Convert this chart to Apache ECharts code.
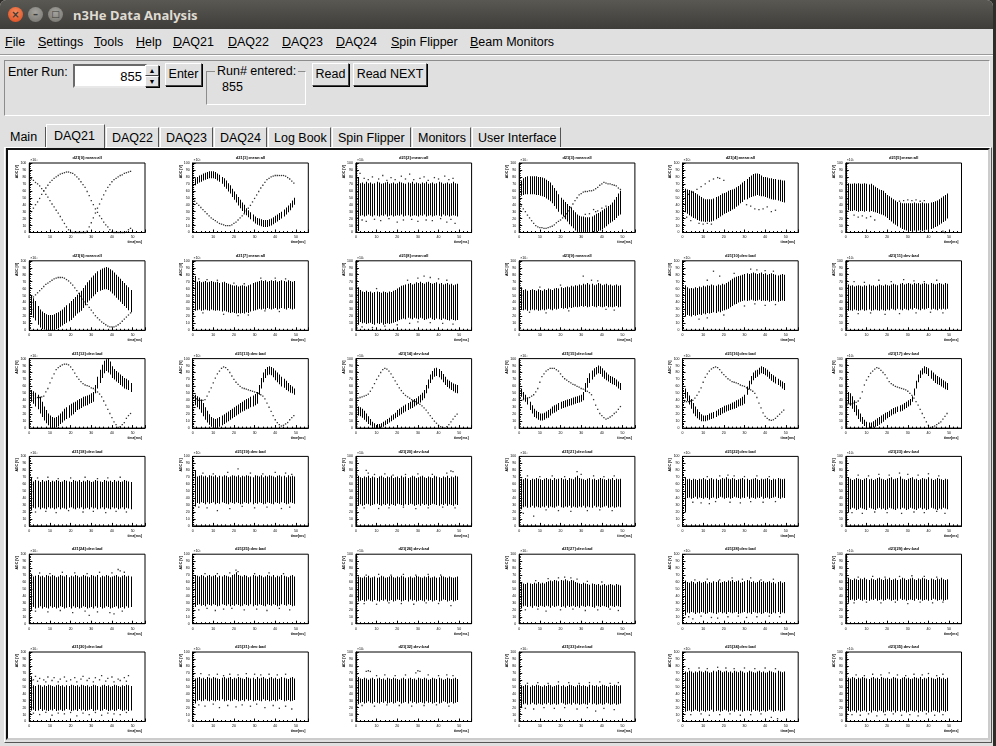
<!DOCTYPE html>
<html>
<head>
<meta charset="utf-8">
<title>n3He Data Analysis</title>
<script src="https://cdn.jsdelivr.net/npm/echarts@6/dist/echarts.min.js"></script>
<style>
  body { margin: 0; width: 996px; height: 746px; background: #2e2d2a; overflow: hidden;
         font-family: "Liberation Sans", Arial, sans-serif; font-size: 12.5px; color: #000; }
  .abs { position: absolute; }
  #win { left: 0; top: 0; width: 993px; height: 746px; background: #e0e0e0; border-radius: 6px 6px 0 0; overflow: hidden; }
  #titlebar { left: 0; top: 0; width: 993px; height: 29px; background: linear-gradient(#5a5853, #3e3d39); }
  #titlebar .t { left: 73px; top: 6px; color: #dfdbd2; font: bold 13px "Noto Sans", sans-serif; }
  .wbtn { width: 15px; height: 15px; border-radius: 50%; top: 7px; font: bold 10px "DejaVu Sans"; text-align: center; line-height: 15px; color: #3c3b37; }
  .menu { top: 35px; }
  .u { text-decoration: underline; }
  .btn { height: 21px; border: 1px solid; border-color: #fff #444 #444 #fff; box-shadow: 1px 1px 0 #000; text-align: center; line-height: 21px; background: #e0e0e0; }
  .tab { top: 127px; height: 20px; line-height: 20px; border-top: 1px solid #fff; border-left: 1px solid #fff; border-right: 1px solid #555; padding-left: 5px; box-sizing: border-box; }
</style>
</head>
<body>
<div id="win" class="abs">
  <div id="titlebar" class="abs">
    <div class="abs wbtn" style="left:8px;background:radial-gradient(circle at 50% 35%,#f58a5c,#d9481c);">×</div>
    <div class="abs wbtn" style="left:28px;background:radial-gradient(circle at 50% 35%,#a5a39d,#73716b);">–</div>
    <div class="abs wbtn" style="left:48px;background:radial-gradient(circle at 50% 35%,#a5a39d,#73716b);font-size:9px;">□</div>
    <div class="abs t">n3He Data Analysis</div>
  </div>

  <div class="abs menu" style="left:5px"><span class="u">F</span>ile</div>
  <div class="abs menu" style="left:38px"><span class="u">S</span>ettings</div>
  <div class="abs menu" style="left:94px"><span class="u">T</span>ools</div>
  <div class="abs menu" style="left:136px"><span class="u">H</span>elp</div>
  <div class="abs menu" style="left:173px"><span class="u">D</span>AQ21</div>
  <div class="abs menu" style="left:228px"><span class="u">D</span>AQ22</div>
  <div class="abs menu" style="left:282px"><span class="u">D</span>AQ23</div>
  <div class="abs menu" style="left:336px"><span class="u">D</span>AQ24</div>
  <div class="abs menu" style="left:391px"><span class="u">S</span>pin Flipper</div>
  <div class="abs menu" style="left:470px"><span class="u">B</span>eam Monitors</div>
  <div class="abs" style="left:0;top:54px;width:993px;height:1px;background:#9a9a9a;border-bottom:1px solid #fff;"></div>

  <div class="abs" style="left:4px;top:60px;width:984px;height:54px;border:1px solid;border-color:#8c8c8c #fff #fff #8c8c8c;"></div>
  <div class="abs" style="left:8px;top:65px;">Enter Run:</div>
  <div class="abs" style="left:73px;top:64px;width:67px;height:20px;background:#fff;border:2px solid;border-color:#6a6a6a #e8e8e8 #e8e8e8 #6a6a6a;text-align:right;line-height:21px;font-size:13px;padding-right:3px;">855</div>
  <div class="abs btn" style="left:145px;top:65px;width:12px;height:9px;line-height:9px;font-size:7px;">▲</div>
  <div class="abs btn" style="left:145px;top:76px;width:12px;height:9px;line-height:9px;font-size:7px;">▼</div>
  <div class="abs btn" style="left:165px;top:63px;width:35px;">Enter</div>
  <div class="abs" style="left:206px;top:71px;width:98px;height:32px;border:1px solid;border-color:#8c8c8c #fff #fff #8c8c8c;"></div>
  <div class="abs" style="left:215px;top:64px;background:#e0e0e0;padding:0 2px;">Run# entered:</div>
  <div class="abs" style="left:222px;top:80px;">855</div>
  <div class="abs btn" style="left:312px;top:63px;width:35px;">Read</div>
  <div class="abs btn" style="left:353px;top:63px;width:72px;">Read NEXT</div>

  <div class="abs tab" style="left:5px;width:41px;border-top:none;border-left:none;">Main</div>
  <div class="abs tab" style="left:46px;top:124px;height:24px;width:59px;padding-left:7px;line-height:22px;background:#e0e0e0;z-index:2;">DAQ21</div>
  <div class="abs tab" style="left:106px;width:53px;">DAQ22</div>
  <div class="abs tab" style="left:160px;width:53px;">DAQ23</div>
  <div class="abs tab" style="left:214px;width:53px;">DAQ24</div>
  <div class="abs tab" style="left:268px;width:63px;">Log Book</div>
  <div class="abs tab" style="left:332px;width:79px;">Spin Flipper</div>
  <div class="abs tab" style="left:412px;width:59px;">Monitors</div>
  <div class="abs tab" style="left:472px;width:89px;">User Interface</div>

  <div class="abs" style="left:4px;top:147px;width:986px;height:594px;border:1px solid;border-color:#fff #555 #555 #fff;"></div>
  <div class="abs" style="left:6px;top:148px;width:980px;height:588px;border:2px solid;border-color:#111 #ccc #ccc #111;"></div>
  <div id="plots" class="abs" style="left:8px;top:150px;width:980px;height:588px;background:#fff;"></div>
</div>

<script>
// time bins (x values)
var bins = [1,2,3,4,5,6,7,8,9,10,11,12,13,14,15,16,17,18,19,20,21,22,23,24,25,26,27,28,29,30,31,32,33,34,35,36,37,38,39,40,41,42,43,44,45,46,47,48,49];

var plotTitles = [
    'd21[0]:mean:all', 'd21[1]:mean:all', 'd21[2]:mean:all', 'd21[3]:mean:all', 'd21[4]:mean:all', 'd21[5]:mean:all',
    'd21[6]:mean:all', 'd21[7]:mean:all', 'd21[8]:mean:all', 'd21[9]:mean:all', 'd21[10]:dev:bad', 'd21[11]:dev:bad',
    'd21[12]:dev:bad', 'd21[13]:dev:bad', 'd21[14]:dev:bad', 'd21[15]:dev:bad', 'd21[16]:dev:bad', 'd21[17]:dev:bad',
    'd21[18]:dev:bad', 'd21[19]:dev:bad', 'd21[20]:dev:bad', 'd21[21]:dev:bad', 'd21[22]:dev:bad', 'd21[23]:dev:bad',
    'd21[24]:dev:bad', 'd21[25]:dev:bad', 'd21[26]:dev:bad', 'd21[27]:dev:bad', 'd21[28]:dev:bad', 'd21[29]:dev:bad',
    'd21[30]:dev:bad', 'd21[31]:dev:bad', 'd21[32]:dev:bad', 'd21[33]:dev:bad', 'd21[34]:dev:bad', 'd21[35]:dev:bad'
];
var yTitle = 'ADC [V]';
var xTitle = 'time[ms]';

// row 1
var r1c1_dotA = [30,35,40,44,49,55,60,64,68,72,75,78,80,82,84,85,86,87,87,86,85,83,80,77,73,69,65,59,53,46,40,34,29,24,20,15,11,8,4,1,0,0,0,0,0,0,1,4,6];
var r1c1_dotB = [77,75,72,70,67,63,60,55,51,46,41,37,32,28,23,18,13,8,4,1,0,0,0,0,0,0,0,2,8,14,21,28,35,41,48,54,60,65,69,73,76,78,80,82,83,85,86,87,88];

var r1c2_lo = [68,70,72,73,75,76,77,78,78,78,77,75,73,70,66,63,59,56,51,47,43,39,35,31,28,25,22,19,16,13,11,10,9,8,8,8,9,10,12,14,16,18,20,23,26,29,32,36,40];
var r1c2_hi = [78,80,82,83,85,86,87,88,88,88,87,85,83,80,78,75,71,68,63,59,55,51,47,43,40,35,32,29,26,23,21,20,19,18,18,18,19,20,22,24,26,28,30,33,36,39,42,46,50];
var r1c2_dot = [45,42,39,36,33,30,27,24,21,19,17,15,13,12,11,10,10,10,11,13,15,18,21,24,27,31,35,39,44,49,54,59,64,68,72,76,78,80,81,82,82,82,82,82,81,79,77,74,71];

var r1c3_hi = [80,71,72,70,73,71,72,70,71,73,72,70,71,72,73,70,71,72,70,71,73,72,71,70,72,71,73,70,72,71,70,72,71,73,70,71,72,70,71,73,72,70,71,72,70,71,73,71,70];
var r1c3_lo = [2,24,25,23,24,26,24,23,25,24,23,25,24,26,23,24,25,23,24,25,24,26,23,24,25,23,24,25,24,23,25,24,26,23,24,25,23,24,25,24,23,26,24,25,23,24,25,24,23];
var r1c3_pts = [[2,85],[4,78],[6,76],[8,80],[11,77],[13,82],[15,75],[17,79],[19,76],[22,81],[24,77],[26,84],[28,76],[31,78],[33,80],[35,75],[38,79],[40,77],[43,81],[45,76],[47,78],
    [3,18],[5,16],[9,19],[12,17],[16,20],[20,15],[23,18],[27,19],[30,16],[34,18],[37,17],[41,20],[44,15],[46,19],[48,13]];

var r1c4_lo = [53,54,55,55,55,55,55,54,54,53,52,51,49,47,45,42,38,34,30,26,23,19,16,12,9,6,3,1,0,0,0,0,0,0,0,1,1,2,3,5,7,9,12,14,16,18,21,24,26];
var r1c4_hi = [75,78,80,81,81,81,81,81,80,80,79,78,76,74,72,68,64,60,55,50,47,44,41,38,36,32,29,26,24,23,23,22,22,22,23,25,27,28,30,32,34,36,38,40,43,47,51,56,60];
var r1c4_dot = [38,34,30,25,21,17,13,10,8,7,7,6,6,7,8,9,11,14,16,18,21,23,27,31,36,41,46,50,54,56,58,59,59,60,60,61,63,65,68,70,72,71,70,70,69,68,67,64,62];
var r1c4_pts = [[36,33],[37,30],[38,31],[40,35],[42,38],[34,27],[32,26]];

var r1c5_lo = [29,27,25,23,21,20,18,17,16,16,15,16,15,16,17,19,21,23,25,27,28,30,31,33,34,37,39,42,44,47,48,50,51,52,53,54,53,52,52,51,50,49,48,47,47,46,45,44,43];
var r1c5_hi = [63,62,61,60,59,57,55,53,51,49,48,48,48,48,49,51,52,54,56,57,58,60,61,62,63,65,67,69,72,74,77,80,82,84,85,85,84,82,80,80,79,78,78,77,77,76,76,75,75];
var r1c5_pts = [[3,55],[5,58],[7,62],[9,66],[11,70],[13,74],[15,77],[17,79],[18,78],[20,75],
    [31,40],[33,38],[35,34],[37,33],[39,34],[41,37],[43,30],[45,32],[2,22],[4,17],[8,13],[10,12],[12,13],[14,12]];

var r1c6_lo = [32,31,31,32,31,30,31,31,30,31,30,31,30,29,28,27,26,25,23,21,18,16,13,11,9,7,5,4,3,2,2,2,3,2,3,3,2,3,4,4,5,6,8,9,11,13,15,17,20];
var r1c6_hi = [71,70,70,71,70,71,70,70,71,70,69,70,68,66,64,62,61,60,57,54,52,50,48,46,44,43,42,42,42,42,42,42,43,42,42,42,43,42,42,42,43,44,45,46,48,50,52,54,56];
var r1c6_pts = [[4,25],[6,22],[8,24],[10,21],[12,23],[14,18],[26,45],[28,46],[30,47],[32,46],[34,47],[36,45],[38,46],[44,1],[47,2],[48,0]];

// row 2
var r2c1_lo = [22,18,14,8,4,2,1,0,0,0,0,1,2,3,5,7,9,11,13,15,18,21,24,26,28,32,36,40,43,46,49,52,55,57,58,59,59,58,56,53,50,47,44,41,38,35,32,29,26];
var r2c1_hi = [50,46,42,35,30,27,25,23,22,22,22,23,25,26,28,30,33,36,39,42,45,48,51,54,57,61,65,69,72,76,79,82,85,87,89,90,91,90,88,86,83,80,77,74,71,68,65,62,58];
var r2c1_dot = [45,48,51,54,57,60,63,66,68,70,72,74,75,76,76,76,75,73,71,68,65,61,57,53,49,45,41,37,33,29,25,21,18,15,12,10,8,6,5,5,5,6,8,10,13,16,19,22,25];

var r2c2_hi = [78,70,71,69,70,71,69,70,71,70,69,70,68,69,70,68,67,66,65,64,65,63,64,65,64,63,65,66,68,69,70,71,72,71,72,70,71,72,71,72,70,71,72,71,70,72,71,70,71];
var r2c2_lo = [28,29,30,28,29,30,29,28,30,29,28,29,28,27,28,27,26,25,26,25,24,25,24,25,24,26,25,27,28,29,30,31,30,31,30,32,31,30,31,32,30,31,32,31,30,32,31,30,31];
var r2c2_pts = [[3,74],[7,73],[12,72],[20,68],[25,67],[33,75],[40,75],[45,74],[5,25],[15,23],[22,21],[27,22],[35,28],[42,27]];

var r2c3_hi = [62,58,56,55,57,55,56,54,55,56,55,54,56,55,54,56,55,57,58,60,62,64,65,66,67,68,66,67,69,68,70,68,67,69,70,68,67,68,69,67,68,66,67,68,66,67,65,66,67];
var r2c3_lo = [8,12,10,11,9,10,11,9,8,10,9,11,8,9,10,9,10,11,12,13,15,16,17,16,18,17,16,18,17,16,18,17,15,16,17,18,16,15,17,16,15,17,16,15,14,16,15,14,15];
var r2c3_pts = [[3,5],[8,4],[14,6],[20,8],[26,10],[30,12],[36,11],[42,10],[47,9],[30,75],[33,78],[36,76],[40,74],[44,72],[25,72],[10,60]];

var r2c4_hi = [62,58,59,57,58,59,58,57,59,58,57,59,58,60,59,58,60,61,60,62,61,62,63,62,64,63,65,64,66,65,67,66,68,66,67,65,66,68,67,65,66,67,65,66,64,65,66,64,65];
var r2c4_lo = [30,29,30,28,29,30,29,30,28,29,30,29,30,31,30,29,31,30,31,32,31,32,31,33,32,33,34,33,34,35,34,35,33,34,35,34,33,35,34,33,34,35,33,34,33,34,35,33,34];
var r2c4_pts = [[31,78],[35,72],[38,71],[20,65],[10,62],[5,26],[13,25],[24,28],[42,30],[46,29]];

var r2c5_hi = [65,62,60,61,60,62,61,63,62,64,63,65,64,66,65,64,66,65,67,66,68,70,72,74,76,77,78,79,80,81,82,81,82,83,82,81,82,83,81,82,80,81,82,81,80,79,80,81,80];
var r2c5_lo = [20,22,21,20,22,21,22,23,22,24,23,25,24,25,26,25,27,26,28,29,30,31,33,35,37,38,40,41,42,43,42,43,44,43,42,43,44,42,43,42,43,41,42,43,42,41,42,43,42];
var r2c5_pts = [[15,85],[18,78],[12,72],[25,82],[33,88],[36,87],[40,86],[44,85],[8,16],[12,18],[20,22],[30,35],[35,38],[40,36],[45,37]];

var r2c6_hi = [66,64,65,63,64,65,64,63,65,64,66,64,65,63,64,66,65,64,66,65,64,66,67,66,65,67,68,66,67,68,67,66,68,67,68,66,67,68,67,66,68,67,66,67,68,67,66,68,67];
var r2c6_lo = [28,29,28,30,29,28,29,30,28,29,30,28,29,30,29,28,30,29,28,30,29,31,30,29,31,30,29,31,30,29,31,30,32,31,30,29,31,30,31,32,30,31,30,29,31,30,31,30,31];
var r2c6_pts = [[4,70],[9,69],[16,72],[22,70],[28,73],[33,71],[38,70],[44,72],[6,24],[12,25],[19,23],[26,24],[34,25],[41,26],[47,25]];

// row 3
var r3c1_lo = [38,35,31,27,21,16,11,7,4,2,0,0,1,3,6,8,11,13,15,18,20,23,26,27,29,31,32,33,35,36,38,50,57,65,72,79,82,80,77,72,70,67,65,62,60,57,56,55,52];
var r3c1_hi = [55,53,51,48,45,38,31,26,21,18,16,15,16,18,21,24,28,30,33,35,37,38,40,42,43,45,46,47,48,50,52,62,74,84,91,97,99,100,96,89,85,82,80,77,75,72,71,69,65];
var r3c1_dot = [50,47,43,44,44,45,46,52,57,65,72,78,84,87,89,91,92,92,91,88,84,79,74,70,67,64,62,61,60,58,57,55,52,49,45,39,33,27,21,15,9,5,1,2,5,8,14,18,21];

var r3c2_lo = [33,30,27,22,17,12,8,5,2,0,0,1,2,4,6,8,10,12,14,16,18,20,22,24,25,27,28,30,31,33,35,48,57,66,72,76,77,76,73,69,66,63,60,58,55,53,51,50,48];
var r3c2_hi = [48,46,44,41,36,30,25,20,16,14,13,14,16,18,20,22,24,26,28,30,32,34,36,38,40,42,43,45,47,49,52,62,72,80,85,88,89,88,86,83,80,77,74,71,68,65,62,60,57];
var r3c2_dot = [45,42,40,40,40,41,46,52,58,65,72,78,82,86,88,87,84,80,75,70,66,63,60,58,57,56,55,54,53,52,51,50,48,46,42,36,30,24,18,12,8,5,3,4,6,8,12,15,18];

var r3c3_lo = [18,17,15,12,9,6,4,2,0,0,0,1,2,4,6,8,10,12,14,16,18,20,22,24,26,28,29,31,33,35,37,40,43,50,57,65,70,74,75,73,70,66,62,59,57,55,53,51,50];
var r3c3_hi = [31,30,28,25,21,17,13,9,7,6,6,7,9,11,13,15,18,20,22,26,28,30,32,34,36,38,40,42,43,46,48,51,55,62,70,77,82,86,87,85,82,78,74,70,68,66,64,63,62];
var r3c3_dot = [43,44,45,46,47,49,53,58,64,70,75,80,84,86,85,82,78,73,68,63,58,54,50,47,45,43,41,39,38,36,34,32,29,26,22,18,14,10,7,4,2,1,0,2,5,9,13,17,20];

var r3c4_lo = [45,42,38,34,26,21,16,14,12,11,11,12,14,15,18,21,22,24,26,28,29,30,31,32,33,34,35,36,37,38,40,52,58,65,70,74,77,79,78,74,71,69,67,65,63,62,60,57,55];
var r3c4_hi = [57,52,48,44,38,33,28,25,23,21,21,22,24,26,28,31,33,34,36,38,39,40,41,42,43,44,45,46,47,48,52,65,72,79,83,86,88,90,89,86,83,80,77,75,74,72,70,67,65];
var r3c4_dot = [40,41,42,43,44,46,48,52,57,66,74,78,82,84,86,86,86,84,82,78,74,71,69,67,65,63,62,60,59,57,56,55,53,51,48,41,33,27,21,18,15,13,14,16,18,21,23,27,31];

var r3c5_lo = [43,39,34,28,21,17,14,12,10,10,10,11,12,13,14,16,18,19,21,22,24,25,26,27,28,29,31,32,33,35,48,56,63,69,72,74,77,79,78,76,74,71,68,66,64,62,60,57,55];
var r3c5_hi = [57,52,47,42,36,31,27,23,20,18,18,19,21,22,23,25,27,29,30,32,33,34,35,37,38,40,41,43,45,48,60,68,75,80,83,84,87,89,88,86,84,81,78,76,74,71,69,67,65];
var r3c5_dot = [38,38,38,39,40,43,47,52,58,66,73,78,82,85,87,88,87,84,80,77,74,71,69,67,66,65,64,62,61,60,58,56,55,53,50,44,36,29,22,17,14,12,11,12,14,17,20,23,26];

var r3c6_lo = [35,32,28,23,18,13,9,6,3,1,0,0,1,2,3,5,7,9,12,14,16,18,20,21,23,24,25,27,29,31,33,38,47,57,66,72,77,79,78,75,71,68,65,63,62,60,58,56,55];
var r3c6_hi = [52,50,46,40,33,27,21,16,12,9,8,8,10,12,14,16,18,20,22,23,25,27,29,30,31,33,34,36,38,40,42,46,57,68,77,83,86,89,88,86,83,80,77,75,73,71,69,67,65];
var r3c6_dot = [35,35,35,36,37,39,43,52,62,69,74,79,82,85,87,86,83,80,77,72,67,64,62,60,59,58,57,56,55,53,50,47,43,38,33,27,21,15,9,4,1,2,3,5,7,9,13,17,21];

// row 4
var r4c1_hi = [70,64,66,65,63,66,64,65,66,63,65,64,66,65,63,64,66,65,64,63,66,65,64,66,63,65,64,66,65,63,64,66,65,64,63,66,65,64,65,63,66,64,65,63,64,66,65,64,63];
var r4c1_lo = [22,26,25,27,24,26,25,24,27,25,26,24,25,27,24,26,25,24,26,27,25,24,26,25,27,24,25,26,24,27,25,26,24,25,27,24,26,25,24,27,25,26,24,25,27,24,26,25,24];
var r4c1_pts = [[4,69],[9,70],[14,68],[20,69],[27,70],[33,68],[38,69],[44,70],[3,20],[8,21],[13,19],[19,22],[26,20],[31,21],[37,19],[42,21],[47,20]];

var r4c2_hi = [80,71,72,73,71,72,70,73,72,71,73,70,72,71,73,72,70,71,73,72,71,73,70,72,71,73,72,71,70,73,72,71,73,70,72,71,73,72,71,70,72,73,71,72,70,73,71,72,71];
var r4c2_lo = [28,33,32,34,33,31,34,32,33,34,31,33,32,34,33,32,31,34,33,32,34,33,31,32,34,33,32,34,31,33,32,34,33,31,32,34,33,32,31,34,33,32,34,33,31,32,34,33,32];
var r4c2_pts = [[5,76],[10,75],[17,77],[22,82],[28,76],[34,75],[40,77],[45,76],[48,74],[3,27],[7,26],[12,22],[18,25],[24,28],[30,26],[36,27],[43,25],[47,27]];

var r4c3_hi = [72,70,69,71,70,72,69,71,70,69,71,72,70,69,71,70,72,69,70,71,69,72,70,71,69,70,72,71,69,70,71,72,70,69,71,70,69,72,71,70,69,71,70,72,69,71,70,72,71];
var r4c3_lo = [30,31,29,30,32,31,29,30,31,32,30,29,31,30,32,29,31,30,29,32,31,30,29,31,30,32,31,29,30,31,29,32,30,31,29,30,32,31,30,29,31,30,32,29,31,30,29,31,30];
var r4c3_pts = [[5,80],[6,76],[9,74],[14,75],[18,73],[24,74],[30,75],[37,74],[44,76],[46,79],[47,78],[4,26],[11,25],[16,26],[23,27],[29,25],[35,26],[42,27],[48,26]];

var r4c4_hi = [68,67,69,68,66,68,67,69,68,67,66,68,69,67,68,66,69,67,68,69,67,68,66,69,68,67,70,72,69,68,67,66,68,69,67,68,66,67,69,68,67,66,68,67,69,66,68,67,68];
var r4c4_lo = [24,27,28,26,27,29,26,28,27,26,28,27,29,26,28,27,26,28,29,27,26,28,27,29,26,28,27,26,28,27,29,26,28,27,26,29,27,28,26,27,28,29,26,27,28,26,27,28,27];
var r4c4_pts = [[4,72],[10,71],[16,72],[22,71],[28,78],[30,74],[36,72],[41,71],[46,72],[2,18],[7,14],[13,23],[19,22],[25,21],[33,22],[39,23],[45,22]];

var r4c5_hi = [70,67,68,66,68,67,66,68,67,69,67,66,68,69,67,68,66,67,69,68,70,68,67,69,68,66,67,68,69,67,68,66,67,68,69,67,66,68,67,68,69,67,66,68,67,69,68,67,68];
var r4c5_lo = [20,40,41,39,40,42,39,41,40,39,41,40,38,40,41,39,40,42,41,39,40,41,39,40,42,41,40,39,41,40,42,39,41,40,39,41,40,42,39,40,41,39,40,41,42,40,39,41,40];
var r4c5_pts = [[12,71],[18,72],[22,73],[25,72],[30,71],[36,72],[42,71],[5,34],[9,33],[13,32],[16,35],[23,34],[28,33],[33,35],[39,34],[45,35]];

var r4c6_hi = [70,68,66,67,69,68,67,66,68,69,67,68,66,67,69,70,68,67,66,68,69,70,67,68,69,71,68,67,66,68,69,70,67,68,66,67,69,68,67,70,68,66,67,69,68,67,66,68,67];
var r4c6_lo = [20,24,26,25,23,24,26,25,24,23,26,25,24,23,25,26,24,25,23,24,26,25,24,23,25,24,26,25,23,24,26,25,24,23,25,26,24,25,23,24,26,25,24,23,25,24,26,25,24];
var r4c6_pts = [[6,73],[11,72],[16,74],[21,73],[26,76],[30,74],[35,73],[40,75],[45,72],[3,19],[8,18],[14,20],[20,19],[27,18],[33,20],[38,19],[44,21],[48,18]];

// row 5
var r5c1_hi = [72,68,69,70,68,69,67,70,69,68,70,69,67,68,70,69,68,70,67,69,68,70,69,67,68,70,69,68,67,70,69,68,70,67,69,68,70,69,67,68,69,70,68,67,69,70,68,69,68];
var r5c1_lo = [20,24,22,23,25,22,24,23,22,25,23,24,22,23,25,24,22,23,24,22,25,23,24,22,23,25,24,22,23,24,22,25,23,24,22,23,25,24,22,23,24,25,22,23,24,22,25,23,24];
var r5c1_pts = [[5,73],[10,72],[16,74],[22,73],[28,72],[34,74],[40,73],[43,78],[44,76],[46,74],[3,18],[9,17],[15,19],[21,16],[27,18],[29,12],[33,17],[39,16],[41,14],[45,18]];

var r5c2_hi = [70,69,68,70,69,67,69,70,68,69,70,67,69,68,70,69,68,67,70,71,74,70,69,68,70,69,67,68,70,69,68,70,69,67,68,70,69,68,70,67,69,68,70,69,68,67,69,70,68];
var r5c2_lo = [24,27,28,26,27,25,28,27,26,28,27,25,26,28,27,26,28,25,27,26,28,27,25,26,28,27,26,28,25,27,26,28,27,26,25,28,27,26,28,27,25,26,28,27,26,28,27,25,26];
var r5c2_pts = [[6,72],[12,72],[18,73],[21,77],[22,75],[30,72],[37,73],[44,72],[3,20],[7,22],[11,19],[15,21],[19,22],[25,20],[31,21],[36,19],[42,22],[47,20]];

var r5c3_hi = [68,67,66,68,67,69,66,67,68,66,67,69,68,66,67,68,69,67,66,68,67,69,68,66,67,68,66,67,69,68,67,66,68,67,69,66,67,68,66,67,69,68,67,66,68,67,66,67,68];
var r5c3_lo = [32,33,34,32,33,35,33,32,34,33,32,34,33,35,32,33,34,32,33,35,34,32,33,34,32,35,33,34,32,33,34,33,32,35,33,34,32,33,34,32,33,35,34,32,33,34,32,33,34];
var r5c3_pts = [[5,70],[11,71],[17,70],[23,71],[29,70],[35,71],[41,70],[4,29],[10,28],[16,30],[22,29],[28,28],[34,30],[40,29],[46,26]];

var r5c4_hi = [60,58,57,59,58,57,59,58,60,58,59,58,60,61,62,61,63,62,61,63,62,64,62,61,63,62,60,59,58,57,59,58,57,56,58,57,56,57,55,56,57,55,56,57,56,55,57,56,55];
var r5c4_lo = [22,25,26,24,25,23,26,25,24,26,25,24,26,25,23,26,24,25,26,24,25,23,26,24,25,26,24,25,23,26,25,24,26,25,24,23,26,25,24,26,25,24,23,26,25,24,26,25,24];
var r5c4_pts = [[8,62],[14,65],[19,66],[22,67],[25,66],[28,64],[33,61],[40,60],[3,20],[9,21],[13,18],[20,20],[26,21],[32,19],[38,20],[44,21],[48,19]];

var r5c5_hi = [62,60,59,61,60,58,60,61,59,60,61,58,60,59,61,60,62,59,60,61,60,62,61,63,60,61,62,59,60,61,63,62,60,61,59,60,62,60,61,59,60,61,59,60,58,60,61,59,60];
var r5c5_lo = [12,16,15,17,16,14,16,15,17,16,14,15,17,16,15,14,16,17,15,16,14,17,16,15,16,17,14,15,16,17,15,16,14,17,16,15,16,14,15,17,16,15,14,16,15,17,14,16,15];
var r5c5_pts = [[6,63],[12,64],[18,63],[24,66],[29,64],[33,66],[38,63],[44,64],[3,10],[5,7],[9,11],[14,9],[17,8],[22,10],[27,11],[31,9],[36,10],[42,11],[47,10]];

var r5c6_hi = [66,64,63,65,64,63,65,64,66,64,63,65,64,63,65,66,64,63,65,64,66,63,64,65,63,64,66,65,63,64,65,66,64,63,65,64,66,65,64,63,65,64,63,65,64,66,64,63,64];
var r5c6_lo = [30,34,35,33,34,36,34,33,35,34,33,35,34,36,33,34,35,33,34,36,35,33,34,35,33,36,34,35,33,34,35,34,33,36,34,35,33,34,35,33,34,36,35,33,34,35,33,34,35];
var r5c6_pts = [[6,67],[13,68],[19,67],[26,68],[32,69],[38,68],[44,67],[4,30],[10,31],[17,30],[24,31],[30,29],[36,31],[42,30],[47,31]];

// row 6
var r6c1_hi = [65,52,51,53,52,50,52,51,53,52,51,50,52,53,51,52,50,52,51,53,52,51,52,50,53,52,51,52,50,51,53,52,51,50,52,53,51,52,50,51,53,52,51,50,52,51,53,52,51];
var r6c1_lo = [16,17,15,16,18,15,17,16,15,17,16,18,15,16,17,15,16,18,17,15,16,17,15,18,16,17,15,16,17,18,15,16,17,15,16,18,17,15,16,17,15,16,18,17,15,16,17,15,16];
var r6c1_pts = [[2,60],[3,65],[4,58],[5,62],[7,60],[8,57],[9,64],[11,59],[12,63],[14,57],[15,61],[17,64],[18,58],[20,60],[22,63],[23,57],[25,61],[26,65],[28,59],[29,62],
    [31,57],[32,63],[34,60],[35,66],[37,58],[38,62],[40,64],[41,57],[43,61],[44,59],[46,63],[47,58],[48,66],
    [2,12],[5,10],[8,13],[11,9],[14,12],[17,11],[20,13],[23,8],[26,12],[29,10],[32,13],[35,9],[38,12],[41,11],[44,10],[47,13]];

var r6c2_hi = [62,63,64,62,63,61,64,63,62,64,63,62,61,63,64,62,63,64,61,63,62,64,63,62,61,64,63,62,63,61,64,62,63,64,62,61,63,64,62,63,61,62,64,63,62,61,63,64,62];
var r6c2_lo = [26,30,31,29,30,32,30,29,31,30,29,31,30,32,29,30,31,29,30,32,31,29,30,31,29,32,30,31,29,30,31,30,29,32,30,31,29,30,31,29,30,32,31,29,30,31,29,30,31];
var r6c2_pts = [[4,69],[8,67],[12,68],[15,66],[18,68],[22,67],[26,69],[30,68],[33,67],[37,68],[41,67],[45,68],[3,24],[6,22],[10,25],[13,20],[17,23],[21,21],[24,24],[28,22],[31,25],[35,20],[39,23],[42,19],[45,22],[48,18]];

var r6c3_hi = [64,62,61,63,62,60,62,63,61,62,63,61,62,60,63,62,61,63,62,61,60,62,63,61,62,63,61,62,60,63,62,61,63,62,60,61,63,62,61,63,62,60,61,63,62,61,62,63,61];
var r6c3_lo = [25,27,28,26,27,29,27,26,28,27,26,28,27,29,26,27,28,26,27,29,28,26,27,28,26,29,27,28,26,27,28,27,26,29,27,28,26,27,28,26,27,29,28,26,27,28,26,27,28];
var r6c3_pts = [[5,72],[6,73],[7,72],[10,66],[14,67],[19,66],[24,67],[29,70],[30,73],[31,72],[35,67],[40,66],[44,67],[47,66],[3,23],[9,22],[15,24],[21,23],[27,22],[33,23],[39,24],[45,22]];

var r6c4_hi = [52,51,53,52,50,52,51,53,52,51,50,52,51,53,52,50,51,52,53,51,52,50,51,53,52,51,50,52,53,51,52,51,50,53,52,51,52,50,51,53,52,51,50,52,51,53,52,51,52];
var r6c4_lo = [20,25,26,24,25,27,25,24,26,25,24,26,25,27,24,25,26,24,25,27,26,24,25,26,24,27,25,26,24,25,26,25,24,27,25,26,24,25,26,24,25,27,26,24,25,26,24,25,26];
var r6c4_pts = [[4,55],[9,56],[14,55],[19,57],[24,56],[29,55],[34,56],[39,57],[44,55],[48,56],[3,19],[7,18],[12,20],[17,19],[22,20],[28,18],[33,20],[37,15],[41,19],[46,17]];

var r6c5_hi = [72,71,73,72,70,72,71,73,72,71,73,72,70,71,73,72,74,73,71,72,73,71,72,70,73,72,71,73,72,70,71,73,72,71,70,72,73,71,72,70,71,73,72,71,70,73,72,71,72];
var r6c5_lo = [14,15,16,14,15,17,15,14,16,15,14,16,15,17,14,15,16,14,15,17,16,14,15,16,14,17,15,16,14,15,16,15,14,17,15,16,14,15,16,14,15,17,16,14,15,16,14,15,16];
var r6c5_pts = [[3,76],[8,77],[12,76],[17,78],[21,77],[25,76],[30,77],[35,76],[40,77],[45,76],[4,10],[9,11],[13,9],[18,10],[23,11],[28,9],[33,10],[38,11],[43,6],[46,4]];

var r6c6_hi = [63,62,64,63,61,63,62,64,63,62,61,63,64,62,63,61,64,63,62,63,61,62,64,63,62,61,63,64,62,63,61,62,64,63,62,64,61,63,62,64,63,62,61,63,64,62,63,61,63];
var r6c6_lo = [15,14,16,15,13,16,14,15,16,14,15,13,16,15,14,16,15,13,14,16,15,14,16,13,15,14,16,15,13,14,16,15,14,16,13,15,14,16,15,13,14,16,15,14,13,16,15,14,15];
var r6c6_pts = [[5,67],[9,66],[13,68],[17,67],[21,70],[25,67],[29,66],[33,68],[37,67],[40,69],[44,66],[47,68],[3,10],[7,9],[11,11],[15,8],[19,10],[23,11],[27,9],[31,10],[35,8],[39,11],[43,9],[47,10]];

var plots = [
    {dots: [r1c1_dotA, r1c1_dotB]},
    {lo: r1c2_lo, hi: r1c2_hi, dots: [r1c2_dot]},
    {lo: r1c3_lo, hi: r1c3_hi, pts: r1c3_pts},
    {lo: r1c4_lo, hi: r1c4_hi, dots: [r1c4_dot], pts: r1c4_pts},
    {lo: r1c5_lo, hi: r1c5_hi, pts: r1c5_pts},
    {lo: r1c6_lo, hi: r1c6_hi, pts: r1c6_pts},

    {lo: r2c1_lo, hi: r2c1_hi, dots: [r2c1_dot]},
    {lo: r2c2_lo, hi: r2c2_hi, pts: r2c2_pts},
    {lo: r2c3_lo, hi: r2c3_hi, pts: r2c3_pts},
    {lo: r2c4_lo, hi: r2c4_hi, pts: r2c4_pts},
    {lo: r2c5_lo, hi: r2c5_hi, pts: r2c5_pts},
    {lo: r2c6_lo, hi: r2c6_hi, pts: r2c6_pts},

    {lo: r3c1_lo, hi: r3c1_hi, dots: [r3c1_dot]},
    {lo: r3c2_lo, hi: r3c2_hi, dots: [r3c2_dot]},
    {lo: r3c3_lo, hi: r3c3_hi, dots: [r3c3_dot]},
    {lo: r3c4_lo, hi: r3c4_hi, dots: [r3c4_dot]},
    {lo: r3c5_lo, hi: r3c5_hi, dots: [r3c5_dot]},
    {lo: r3c6_lo, hi: r3c6_hi, dots: [r3c6_dot]},

    {lo: r4c1_lo, hi: r4c1_hi, pts: r4c1_pts},
    {lo: r4c2_lo, hi: r4c2_hi, pts: r4c2_pts},
    {lo: r4c3_lo, hi: r4c3_hi, pts: r4c3_pts},
    {lo: r4c4_lo, hi: r4c4_hi, pts: r4c4_pts},
    {lo: r4c5_lo, hi: r4c5_hi, pts: r4c5_pts},
    {lo: r4c6_lo, hi: r4c6_hi, pts: r4c6_pts},

    {lo: r5c1_lo, hi: r5c1_hi, pts: r5c1_pts},
    {lo: r5c2_lo, hi: r5c2_hi, pts: r5c2_pts},
    {lo: r5c3_lo, hi: r5c3_hi, pts: r5c3_pts},
    {lo: r5c4_lo, hi: r5c4_hi, pts: r5c4_pts},
    {lo: r5c5_lo, hi: r5c5_hi, pts: r5c5_pts},
    {lo: r5c6_lo, hi: r5c6_hi, pts: r5c6_pts},

    {lo: r6c1_lo, hi: r6c1_hi, pts: r6c1_pts},
    {lo: r6c2_lo, hi: r6c2_hi, pts: r6c2_pts},
    {lo: r6c3_lo, hi: r6c3_hi, pts: r6c3_pts},
    {lo: r6c4_lo, hi: r6c4_hi, pts: r6c4_pts},
    {lo: r6c5_lo, hi: r6c5_hi, pts: r6c5_pts},
    {lo: r6c6_lo, hi: r6c6_hi, pts: r6c6_pts}
];

// 1px vertical bar from lo to hi at each bin
function renderBar(params, api) {
    var p0 = api.coord([api.value(0), api.value(1)]);
    var p1 = api.coord([api.value(0), api.value(2)]);
    return {
        type: 'rect',
        shape: {x: Math.round(p0[0]), y: p1[1], width: 1, height: Math.max(p0[1] - p1[1], 1)},
        style: {fill: '#000'}
    };
}

var chart = echarts.init(document.getElementById('plots'));
var grids = [], xAxes = [], yAxes = [], series = [], graphics = [];
var cellW = 163.3, cellH = 97.8, plotW = 115.7, plotH = 69.5;

plots.forEach(function (p, i) {
    var row = Math.floor(i / 6), col = i % 6;
    var left = 21.3 + col * cellW, top = 13 + row * cellH;

    grids.push({left: left, top: top, width: plotW, height: plotH, show: true,
        borderColor: '#000', borderWidth: 1, backgroundColor: '#fff'});
    xAxes.push({
        gridIndex: i, type: 'value', min: 0, max: 56, interval: 10,
        axisLine: {lineStyle: {color: '#000', width: 1}},
        axisTick: {inside: true, length: 3, lineStyle: {color: '#000'}},
        minorTick: {show: true, splitNumber: 5, length: 1.5, lineStyle: {color: '#000'}},
        splitLine: {show: false},
        axisLabel: {fontSize: 3.5, margin: 3, color: '#000', showMaxLabel: false, fontFamily: 'Liberation Sans'}
    });
    yAxes.push({
        gridIndex: i, type: 'value', min: 0, max: 100, interval: 10,
        axisLine: {lineStyle: {color: '#000', width: 1}},
        axisTick: {inside: true, length: 3, lineStyle: {color: '#000'}},
        minorTick: {show: true, splitNumber: 4, length: 1.5, lineStyle: {color: '#000'}},
        splitLine: {show: false},
        axisLabel: {fontSize: 3.5, margin: 3, color: '#000', fontFamily: 'Liberation Sans'}
    });

    if (p.lo) {
        series.push({
            type: 'custom', xAxisIndex: i, yAxisIndex: i, silent: true,
            renderItem: renderBar,
            data: bins.map(function (b, k) { return [b, p.lo[k], p.hi[k]]; })
        });
    }
    (p.dots || []).forEach(function (d) {
        series.push({
            type: 'scatter', xAxisIndex: i, yAxisIndex: i, silent: true,
            symbol: 'rect', symbolSize: 1.3, itemStyle: {color: '#000'},
            data: bins.map(function (b, k) { return [b, d[k]]; })
        });
    });
    if (p.pts) {
        series.push({
            type: 'scatter', xAxisIndex: i, yAxisIndex: i, silent: true,
            symbol: 'rect', symbolSize: 1.3, itemStyle: {color: '#000'},
            data: p.pts
        });
    }

    // plot texts
    graphics.push({type: 'text', x: left + plotW / 2, y: top - 5, silent: true,
        style: {text: plotTitles[i], font: 'bold 4px "Liberation Sans"', fill: '#000', align: 'center', verticalAlign: 'middle'}});
    graphics.push({type: 'text', x: left + 1, y: top - 3, silent: true,
        style: {text: '×10³', font: '3.5px "Liberation Sans"', fill: '#000', align: 'left', verticalAlign: 'middle'}});
    graphics.push({type: 'text', x: left - 12, y: top + 2, rotation: Math.PI / 2, silent: true,
        style: {text: yTitle, font: 'bold 3.5px "Liberation Sans"', fill: '#000', align: 'right', verticalAlign: 'middle'}});
    graphics.push({type: 'text', x: left + plotW - 3, y: top + plotH + 10, silent: true,
        style: {text: xTitle, font: 'bold 3.5px "Liberation Sans"', fill: '#000', align: 'right', verticalAlign: 'middle'}});
});

chart.setOption({
    animation: false,
    grid: grids,
    xAxis: xAxes,
    yAxis: yAxes,
    series: series,
    graphic: graphics
});
</script>
</body>
</html>
